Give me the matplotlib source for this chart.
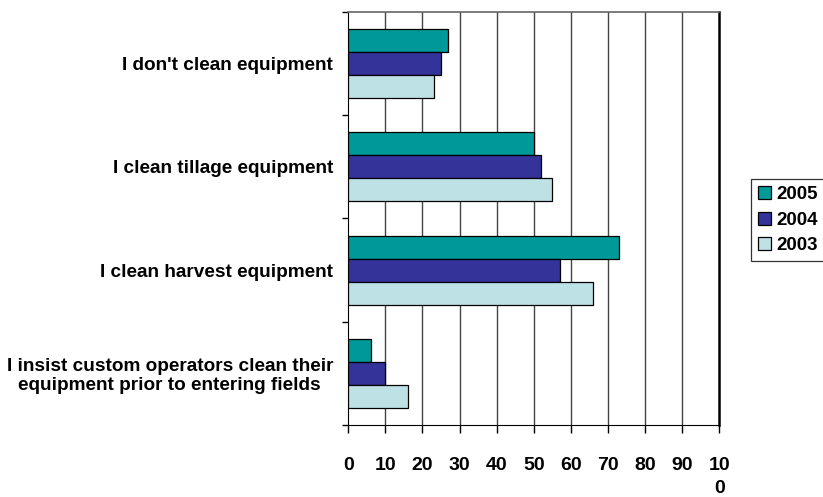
import numpy as np
import matplotlib
matplotlib.use('Agg')
import matplotlib.pyplot as plt

plt.rcParams['font.family'] = ['Liberation Sans', 'DejaVu Sans']
plt.rcParams['font.weight'] = 'bold'

# data
categories = ["I don't clean equipment",
              "I clean tillage equipment",
              "I clean harvest equipment",
              "I insist custom operators clean their\nequipment prior to entering fields"]
years = ['2005', '2004', '2003']
v2005 = [27, 50, 73, 6]
v2004 = [25, 52, 57, 10]
v2003 = [23, 55, 66, 16]
xticks = [0, 10, 20, 30, 40, 50, 60, 70, 80, 90, 100]
xtick_labels = ['0', '10', '20', '30', '40', '50', '60', '70', '80', '90', '10\n0']

colors = ['#009999', '#333399', '#bde1e4']

fig = plt.figure(figsize=(8.23, 4.97), dpi=100)
ax = fig.add_axes([0.4232, 0.1449, 0.4508, 0.831])

y = np.arange(len(categories))
h = 0.223
for i, (vals, c, lab) in enumerate(zip([v2005, v2004, v2003], colors, years)):
    ax.barh(y + (i - 1) * h, vals, height=h, color=c, edgecolor='black',
            linewidth=0.9, label=lab, zorder=3)

ax.set_xlim(0, 100)
ax.set_ylim(len(categories) - 0.5, -0.5)

# grid
for xv in xticks[1:-1]:
    ax.axvline(xv, color='#444444', linewidth=1.0, zorder=1)

ax.set_xticks(xticks)
ax.set_xticklabels(xtick_labels, fontsize=14, fontweight='bold')
for t in ax.get_xticklabels():
    t.set_linespacing(1.5)
ax.tick_params(axis='x', direction='out', length=6, width=1, pad=17)

ax.set_yticks(np.arange(len(categories) + 1) - 0.5)
ax.set_yticklabels([])
ax.set_yticks(y, categories, minor=True)
ax.tick_params(axis='y', which='major', direction='out', length=4.5, width=1)
ax.tick_params(axis='y', which='minor', length=0, pad=11, labelsize=13.7)
for t in ax.get_yticklabels(minor=True):
    t.set_fontweight('bold')
    t.set_multialignment('center')
    t.set_linespacing(1.15)

ax.spines['left'].set_color('black')
ax.spines['bottom'].set_color('black')
ax.spines['right'].set_color('black')
ax.spines['right'].set_linewidth(1.8)
ax.spines['top'].set_color('#666666')
ax.spines['top'].set_linewidth(1.2)

leg = fig.legend(loc='center left', bbox_to_anchor=(0.913, 0.557),
                 prop={'size': 13.5, 'weight': 'bold'}, frameon=True,
                 fancybox=False, edgecolor='black', handlelength=0.7,
                 handleheight=0.7, handletextpad=0.3, labelspacing=0.45,
                 borderpad=0.35, borderaxespad=0)
leg.get_frame().set_linewidth(0.9)

fig.savefig('out.png', dpi=100)
